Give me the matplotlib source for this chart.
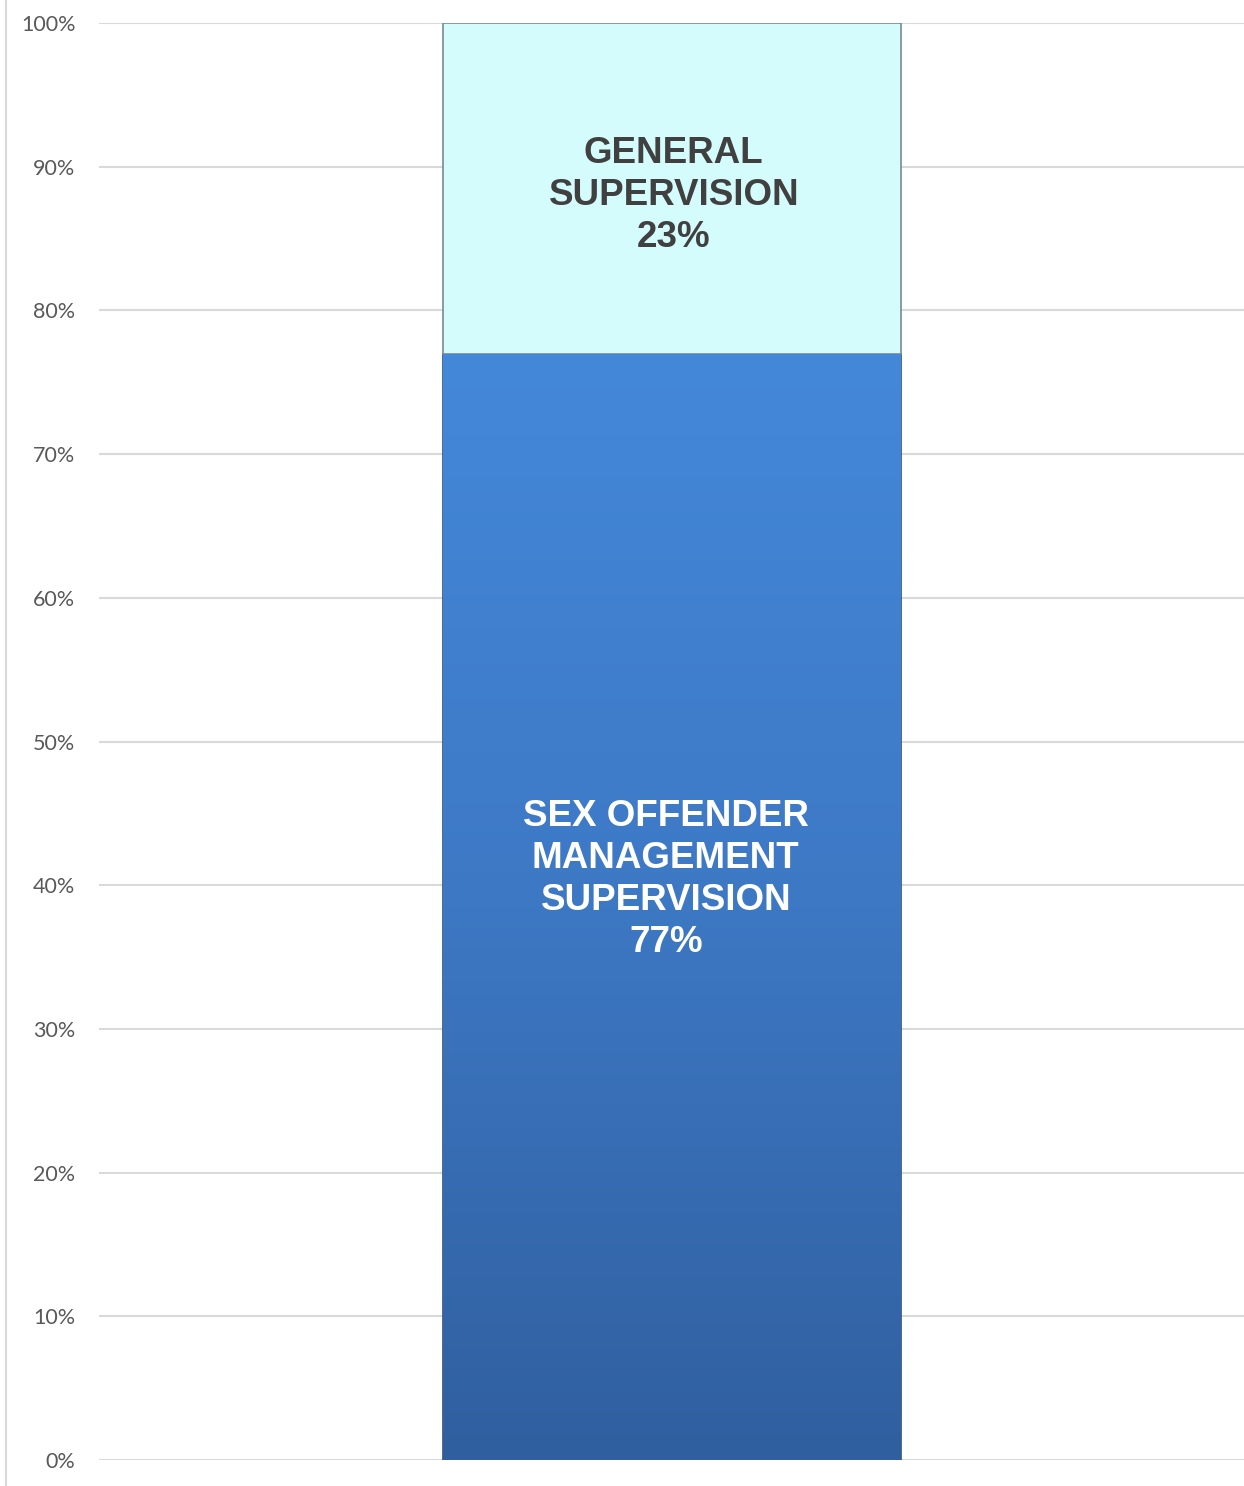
import numpy as np
import matplotlib.pyplot as plt
from matplotlib.lines import Line2D
from matplotlib.colors import LinearSegmentedColormap

categories = [""]
sex_offender = [77]
general = [23]
seg_labels = ["SEX OFFENDER\nMANAGEMENT\nSUPERVISION\n77%", "GENERAL\nSUPERVISION\n23%"]

fig = plt.figure(figsize=(12.44, 14.86), dpi=100)
ax = fig.add_axes([0.0796, 0.0175, 0.9204, 0.967])

x = np.arange(len(categories))
b1 = ax.bar(x, sex_offender, width=0.4, color="#3f7fcf", edgecolor="#2c4f7c", linewidth=1.2, zorder=3)
b2 = ax.bar(x, general, width=0.4, bottom=sex_offender, color="#d5fcfc", edgecolor="#7a8a8a",
            linewidth=1.2, zorder=3)

# vertical gradient on the blue segment
cmap = LinearSegmentedColormap.from_list("b", ["#305f9f", "#3d78c4", "#4488da"])
for p in b1.patches:
    x0, y0 = p.get_x(), p.get_y()
    w, h = p.get_width(), p.get_height()
    grad = np.linspace(0, 1, 256).reshape(-1, 1)
    im = ax.imshow(grad, cmap=cmap, aspect="auto", origin="lower",
                   extent=[x0, x0 + w, y0, y0 + h], zorder=3.5)
    im.set_clip_path(p)

ax.set_xlim(-0.5, 0.5)
ax.set_ylim(0, 100)
ax.set_yticks(np.arange(0, 101, 10))
ax.set_yticklabels([f"{v}%" for v in range(0, 101, 10)], fontfamily="Lato", fontsize=15.5, color="#595959")
ax.set_xticks([])
ax.tick_params(axis="y", length=0, pad=17)
ax.grid(axis="y", color="#d9d9d9", linewidth=1.5, zorder=0)
for s in ax.spines.values():
    s.set_visible(False)

ax.text(x[0] - 0.005, 40.4, seg_labels[0], ha="center", va="center",
        fontfamily="Liberation Sans", fontweight="bold", fontsize=26.5, color="white",
        linespacing=1.26, zorder=5)
ax.text(x[0] + 0.002, 88.0, seg_labels[1], ha="center", va="center",
        fontfamily="Liberation Sans", fontweight="bold", fontsize=26.5, color="#404040",
        linespacing=1.26, zorder=5)

fig.add_artist(Line2D([0.0045, 0.0045], [0, 1], transform=fig.transFigure, color="#d9d9d9", linewidth=1.5))

fig.savefig("out.png", dpi=100, facecolor="white")
